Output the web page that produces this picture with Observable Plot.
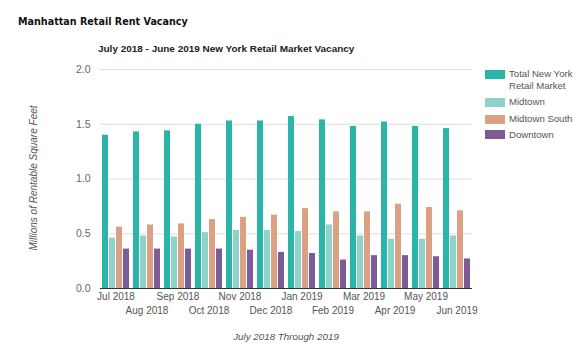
<!DOCTYPE html>
<html>
<head>
<meta charset="utf-8">
<script src="https://cdn.jsdelivr.net/npm/d3@7"></script>
<script src="https://cdn.jsdelivr.net/npm/@observablehq/plot@0.6"></script>
<style>
  html, body { margin: 0; padding: 0; background: #fff; }
  #wrap { position: relative; width: 587px; height: 359px; overflow: hidden; font-family: "Liberation Sans", Arial, sans-serif; }
  #chart { position: absolute; left: 0; top: 0; }
  .abs { position: absolute; white-space: nowrap; transform: translateY(-50%); }
  #title { left: 18px; top: 21px; font-family: "DejaVu Sans", sans-serif; font-weight: bold; font-size: 10px; color: #111; }
  #subtitle { left: 98px; top: 47.5px; font-weight: bold; font-size: 10px; color: #222; }
  #xtitle { left: 286px; top: 336px; font-style: italic; font-size: 10px; color: #555; transform: translate(-50%, -50%); }
  #ytitle { left: 33px; top: 178px; font-style: italic; font-size: 10px; color: #555; transform: translate(-50%, -50%) rotate(-90deg); }
  .sw { position: absolute; left: 485px; width: 20px; height: 9px; }
  .lt { position: absolute; left: 509px; font-size: 9.6px; color: #555; line-height: 12px; }
</style>
</head>
<body>
<div id="wrap">
  <div id="chart"></div>
  <div id="title" class="abs">Manhattan Retail Rent Vacancy</div>
  <div id="subtitle" class="abs">July 2018 - June 2019 New York Retail Market Vacancy</div>
  <div id="xtitle" class="abs">July 2018 Through 2019</div>
  <div id="ytitle" class="abs">Millions of Rentable Square Feet</div>
  <div id="legend"></div>
</div>
<script>
const months = ["Jul 2018","Aug 2018","Sep 2018","Oct 2018","Nov 2018","Dec 2018","Jan 2019","Feb 2019","Mar 2019","Apr 2019","May 2019","Jun 2019"];
const seriesNames = ["Total New York Retail Market","Midtown","Midtown South","Downtown"];
const total        = [1.40,1.43,1.44,1.50,1.53,1.53,1.57,1.54,1.48,1.52,1.48,1.46];
const midtown      = [0.46,0.48,0.47,0.51,0.53,0.53,0.52,0.58,0.48,0.45,0.45,0.48];
const midtownSouth = [0.56,0.58,0.59,0.63,0.65,0.67,0.73,0.70,0.70,0.77,0.74,0.71];
const downtown     = [0.36,0.36,0.36,0.36,0.35,0.33,0.32,0.26,0.30,0.30,0.29,0.27];
const yTicks = [0, 0.5, 1.0, 1.5, 2.0];
const colors = ["#2bb5a8", "#8ed3c9", "#dca184", "#7c5c95"];

const seriesValues = [total, midtown, midtownSouth, downtown];
const rows = [];
months.forEach((m, i) => {
  seriesNames.forEach((s, j) => rows.push({month: m, series: s, value: seriesValues[j][i]}));
});

const plot = Plot.plot({
  width: 587,
  height: 359,
  marginTop: 69,
  marginBottom: 71,
  marginLeft: 98,
  marginRight: 113,
  style: {fontFamily: "Liberation Sans, Arial, sans-serif", fontSize: "10px", background: "transparent"},
  fx: {domain: months, padding: 0, axis: null},
  x: {domain: seriesNames, paddingInner: 0.1, paddingOuter: 0.14, axis: null},
  y: {domain: [0, 2], axis: null},
  color: {domain: seriesNames, range: colors},
  marks: [
    Plot.gridY(yTicks, {stroke: "#dedede", strokeOpacity: 1}),
    Plot.axisY({ticks: yTicks, tickFormat: d3.format(".1f"), tickSize: 0, tickPadding: 10, color: "#666", label: null, fontSize: 10.5}),
    Plot.barY(rows, {fx: "month", x: "series", y: "value", fill: "series"}),
    Plot.ruleY([0], {stroke: "#333", strokeWidth: 1}),
    Plot.text(months.filter((d, i) => i % 2 === 0), {fx: d => d, text: d => d, frameAnchor: "bottom", dy: 11.5, fill: "#555", fontSize: 10}),
    Plot.text(months.filter((d, i) => i % 2 === 1), {fx: d => d, text: d => d, frameAnchor: "bottom", dy: 25, fill: "#555", fontSize: 10})
  ]
});
document.getElementById("chart").appendChild(plot);

// legend
const legendY = [[69.5, 74], [98, 102], [115, 119], [130, 135]];
const legend = document.getElementById("legend");
seriesNames.forEach((s, i) => {
  const sw = document.createElement("div");
  sw.className = "sw";
  sw.style.top = legendY[i][0] + "px";
  sw.style.background = colors[i];
  legend.appendChild(sw);
  const t = document.createElement("div");
  t.className = "lt";
  t.style.top = (legendY[i][1] - 6) + "px";
  t.innerHTML = i === 0 ? "Total New York<br>Retail Market" : s;
  legend.appendChild(t);
});

// fit some texts to measured reference widths
function fit(id, target) {
  const el = document.getElementById(id);
  const fs = parseFloat(getComputedStyle(el).fontSize);
  const w = el.scrollWidth;
  if (w > 0) el.style.fontSize = (fs * target / w) + "px";
}
fit("title", 170);
fit("subtitle", 257);
fit("xtitle", 106);
</script>
</body>
</html>
